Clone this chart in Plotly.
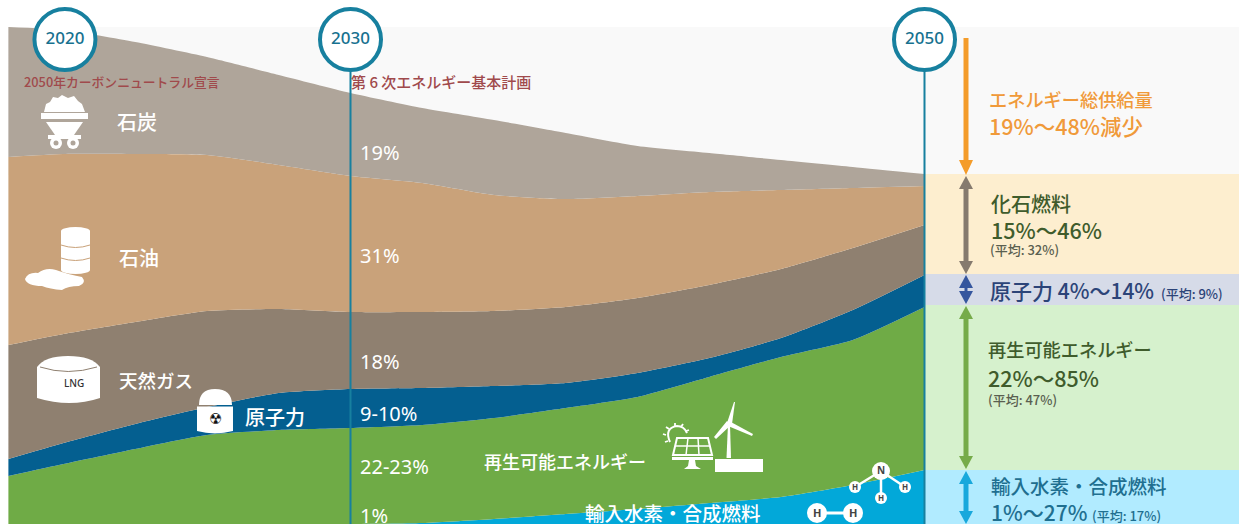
import plotly.graph_objects as go

W, H = 1239, 524
FONT = "Noto Sans, Noto Sans CJK JP, sans-serif"
JP = "Noto Sans CJK JP, sans-serif"

# ---- data: thickness of each layer ----
years = [2018.08, 2020, 2022.5, 2025, 2027.5, 2030, 2032.5, 2035, 2037.5, 2040, 2042.5, 2045, 2047.5, 2050]
hydrogen = [0, 0, 0, 0, 0, 0, 1, 5, 10, 15, 21, 27, 39, 54]
renewables = [48, 60, 75, 89, 94, 96, 98, 101, 106, 112, 126, 140, 145, 163]
nuclear = [17, 21, 25, 28, 37, 39, 37, 32, 25, 24, 19, 19, 30, 32]
gas = [114, 109, 102, 96, 84, 77, 76, 75, 76, 75, 73, 69, 62, 50]
oil = [188, 180, 168, 156, 144, 136, 129, 116, 108, 102, 93, 79, 60, 39]
coal = [130, 124, 112, 98, 90, 83, 75, 75, 66, 50, 39, 30, 21, 12]
milestones = [2020.05, 2030, 2050]
milestone_labels = ["2020", "2030", "2050"]

layers = [
    ("輸入水素・合成燃料", hydrogen, "#02a8d9"),
    ("再生可能エネルギー", renewables, "#6fab46"),
    ("原子力", nuclear, "#045f90"),
    ("天然ガス", gas, "#8f8070"),
    ("石油", oil, "#c9a27a"),
    ("石炭", coal, "#afa59a"),
]

PX_YEAR = 28.7
X0 = 2030 - 350.5 / PX_YEAR
X1 = X0 + W / PX_YEAR


def fx(x):
    return x / W


def fy(y):
    return 1 - y / H


shapes = []


def path(cmds, fill="white", line=None, lw=0, layer="above"):
    out = []
    for c in cmds:
        op = c[0]
        if op == "Z":
            out.append("Z")
            continue
        nums = c[1:]
        pts = []
        for i in range(0, len(nums), 2):
            pts.append(f"{fx(nums[i]):.5f},{fy(nums[i+1]):.5f}")
        out.append(op + " " + " ".join(pts))
    shapes.append(dict(type="path", xref="paper", yref="paper", path=" ".join(out),
                       fillcolor=fill if fill else "rgba(0,0,0,0)",
                       line=dict(color=line or "rgba(0,0,0,0)", width=lw), layer=layer))


def poly(pts, **kw):
    cmds = [("M", *pts[0])] + [("L", *p) for p in pts[1:]] + [("Z",)]
    path(cmds, **kw)


def rect(x0, y0, x1, y1, fill="white", layer="above"):
    shapes.append(dict(type="rect", xref="paper", yref="paper", x0=fx(x0), x1=fx(x1), y0=fy(y0), y1=fy(y1),
                       fillcolor=fill, line=dict(width=0), layer=layer))


def ell(cx, cy, rx, ry, fill="white", line=None, lw=0):
    shapes.append(dict(type="circle", xref="paper", yref="paper", x0=fx(cx - rx), x1=fx(cx + rx),
                       y0=fy(cy - ry), y1=fy(cy + ry), fillcolor=fill,
                       line=dict(color=line or "rgba(0,0,0,0)", width=lw), layer="above"))


def seg(x0, y0, x1, y1, color="white", w=2):
    shapes.append(dict(type="line", xref="paper", yref="paper", x0=fx(x0), x1=fx(x1), y0=fy(y0), y1=fy(y1),
                       line=dict(color=color, width=w), layer="above"))


def arrow(x, y0, y1, color, top=True, bottom=True, hw=7, hl=14, w=5):
    st = y0 + (hl if top else 0) - 1
    en = y1 - (hl if bottom else 0) + 1
    rect(x - w / 2, st, x + w / 2, en, fill=color)
    if top:
        poly([(x, y0), (x + hw, y0 + hl), (x - hw, y0 + hl)], fill=color)
    if bottom:
        poly([(x, y1), (x + hw, y1 - hl), (x - hw, y1 - hl)], fill=color)


# ---- backgrounds on the right ----
rect(8, 27, W, 175, fill="#f9f9f9", layer="below")
rect(924, 174, W, 274, fill="#fdeecf", layer="below")
rect(924, 274, W, 305, fill="#d6dbe8", layer="below")
rect(924, 305, W, 470, fill="#d6f1cd", layer="below")
rect(924, 470, W, H, fill="#b1ebff", layer="below")

# ---- arrows ----
AX = 966
arrow(AX, 39, 175, "#f49c2a", top=False, hl=15)
arrow(AX, 176, 274, "#857a6e", hl=13)
arrow(AX, 275, 304, "#35569e", hl=13, w=3)
arrow(AX, 306, 469, "#76ab4a", hl=13)
arrow(AX, 471, 524, "#18a8dc", hl=13)

# ---- coal cart ----
poly([(44, 112), (46, 104), (50, 102), (53, 97), (58, 98), (62, 95), (68, 98), (74, 96), (78, 101), (82, 104), (85, 112)])
rect(41, 113, 88, 119)
poly([(46, 122), (83, 122), (74, 135), (55, 135)])
rect(48, 135, 81, 139)
ell(56, 143, 6, 6)
ell(73, 143, 6, 6)
ell(56, 143, 2.5, 2.5, fill="#afa59a")
ell(73, 143, 2.5, 2.5, fill="#afa59a")

# ---- oil drum and spill ----
rect(61, 231, 90, 270)
ell(75.5, 231, 14.5, 4)
ell(75.5, 270, 14.5, 4)
path([("M", 61, 245), ("Q", 75.5, 250, 90, 245)], fill=None, line="#c9a27a", lw=1)
path([("M", 61, 258), ("Q", 75.5, 263, 90, 258)], fill=None, line="#c9a27a", lw=1)
path([("M", 25, 279), ("Q", 28, 272, 38, 273), ("Q", 46, 267, 56, 270), ("Q", 70, 275, 82, 277),
      ("Q", 87, 283, 79, 286), ("Q", 68, 286, 62, 290), ("Q", 50, 289, 42, 286), ("Q", 27, 286, 25, 279), ("Z",)])

# ---- LNG tank ----
path([("M", 37, 367), ("Q", 45, 356, 68, 356), ("Q", 92, 356, 100, 367), ("L", 100, 398),
      ("Q", 70, 408, 37, 398), ("Z",)])
path([("M", 40, 367), ("Q", 68, 376, 97, 367)], fill=None, line="#8f8070", lw=1)

# ---- reactor ----
path([("M", 199, 405), ("Q", 199, 389, 215, 389), ("Q", 232, 389, 232, 405), ("Z",)])
path([("M", 197, 406.5), ("L", 233, 406.5), ("L", 233, 431), ("Q", 215, 436, 197, 431), ("Z",)])

# ---- solar panel and turbine ----
poly([(677, 438), (708, 438), (712, 455), (673, 455)], fill=None, line="white", lw=2)
seg(675, 446, 710, 446, w=1.5)
seg(688, 438, 686, 455, w=1.5)
seg(698, 438, 699, 455, w=1.5)
rect(672, 457, 713, 460)
poly([(689, 460), (695, 460), (696, 466), (701, 469), (684, 469), (688, 466)])
path([("M", 670, 442), ("Q", 664, 428, 677, 426), ("Q", 684, 426, 687, 433)], fill=None, line="white", lw=2)
for a, b, c, d in [(668, 441, 665, 442), (666, 435, 663, 434), (669, 429, 666, 427),
                   (675, 426, 675, 423), (681, 427, 683, 424), (686, 431, 689, 430)]:
    seg(a, b, c, d, w=1.8)
poly([(726.5, 458), (731, 458), (730, 424), (728, 424)])
poly([(734, 402), (735, 402), (732, 424), (727, 423)])
poly([(729, 421), (753, 434), (752, 436), (728, 426)])
poly([(731, 425), (716, 439), (714, 437), (727, 421)])
ell(729.5, 423.5, 2.5, 2.5)
rect(715, 459, 763, 472)

# ---- ammonia and hydrogen ----
seg(881, 471, 855, 487, w=2.5)
seg(881, 471, 905, 487, w=2.5)
seg(881, 471, 881, 498, w=2.5)
ell(881, 471, 9, 9)
ell(855, 487, 6, 6)
ell(881, 498, 6, 6)
ell(905, 487, 6, 6)
seg(817, 513, 853, 513, w=3)
ell(817, 513, 10, 10)
ell(853, 513, 10, 10)

# ---- text ----
annotations = []


def label(x, y, text, size, color="white", anchor="left", family=JP, bold=False, weight=500):
    t = f"<b>{text}</b>" if bold else text
    annotations.append(dict(x=fx(x), y=fy(y - 1), xref="paper", yref="paper", text=t, showarrow=False,
                            xanchor=anchor, yanchor="middle", borderpad=0, borderwidth=0,
                            font=dict(size=size, color=color, family=family, weight=weight)))


RED = "#a04a4c"
label(24, 82, "2050年カーボンニュートラル宣言", 12.8, RED)
label(351, 82, "第 6 次エネルギー基本計画", 15, RED)

for y, t in [(153, "19%"), (256, "31%"), (362, "18%"), (414, "9-10%"), (467, "22-23%"), (516, "1%")]:
    label(360, y, t, 20, family=FONT, weight=400)

label(117, 122, "石炭", 20)
label(119, 258, "石油", 20)
label(119, 381, "天然ガス", 18.5)
label(245, 417, "原子力", 20)
label(484, 462, "再生可能エネルギー", 18)
label(585, 513, "輸入水素・合成燃料", 19.5)

label(74, 384, "LNG", 10, color="#333333", anchor="center", family=FONT)
label(215, 420, "☢", 15, color="#111111", anchor="center", family="DejaVu Sans", weight=400)
for x, y, t, s in [(881, 471, "N", 10), (855, 487, "H", 8), (881, 498, "H", 8), (905, 487, "H", 8),
                   (817, 513, "H", 11), (853, 513, "H", 11)]:
    label(x, y, t, s, color="#444444", anchor="center", family=FONT, bold=True)

ORANGE = "#f09a3a"
GREEN = "#3f5c2c"
NAVY = "#2c4478"
TEAL = "#1f6f90"
GREY = "#5a5f50"
label(989, 100, "エネルギー総供給量", 18.2, ORANGE)
label(989, 126, "19%～48%減少", 21.5, ORANGE)
label(991, 204, "化石燃料", 20, GREEN)
label(991, 230, "15%～46%", 21.5, GREEN)
label(990, 250, "(平均: 32%)", 13, GREY)
label(990, 291, "原子力 4%～14%", 21, NAVY)
label(1161, 294, "(平均: 9%)", 13, NAVY)
label(988, 350, "再生可能エネルギー", 18.2, GREEN)
label(988, 378, "22%～85%", 21.5, GREEN)
label(988, 400, "(平均: 47%)", 13, GREY)
label(991, 486, "輸入水素・合成燃料", 19.5, TEAL)
label(991, 513, "1%～27%", 21, TEAL)
label(1092, 516, "(平均: 17%)", 13, TEAL)

# ---- figure ----
fig = go.Figure()
for name, values, color in layers:
    fig.add_trace(go.Scatter(x=years, y=values, name=name, mode="lines", stackgroup="one",
                             fillcolor=color, line=dict(width=0, color=color, shape="spline", smoothing=0.6),
                             hoverinfo="skip"))

LINE = "#17809f"
for yr in milestones[1:]:
    fig.add_trace(go.Scatter(x=[yr, yr], y=[0, 484], mode="lines", line=dict(color=LINE, width=2),
                             hoverinfo="skip"))
fig.add_trace(go.Scatter(x=milestones, y=[484.5] * 3, mode="markers+text", text=milestone_labels,
                         textposition="middle center",
                         textfont=dict(size=17, color="#17718f", family=FONT, weight=500),
                         marker=dict(size=61, color="white", line=dict(color=LINE, width=4)),
                         cliponaxis=False, hoverinfo="skip"))

fig.update_layout(
    width=W, height=H, margin=dict(l=0, r=0, t=0, b=0), showlegend=False,
    paper_bgcolor="white", plot_bgcolor="rgba(0,0,0,0)",
    xaxis=dict(range=[X0, X1], visible=False, fixedrange=True),
    yaxis=dict(range=[0, H], visible=False, fixedrange=True),
    shapes=shapes, annotations=annotations,
)
fig.write_html("out.html", config=dict(displayModeBar=False),
               post_script="document.body.style.margin='0';document.body.style.overflow='hidden';")
